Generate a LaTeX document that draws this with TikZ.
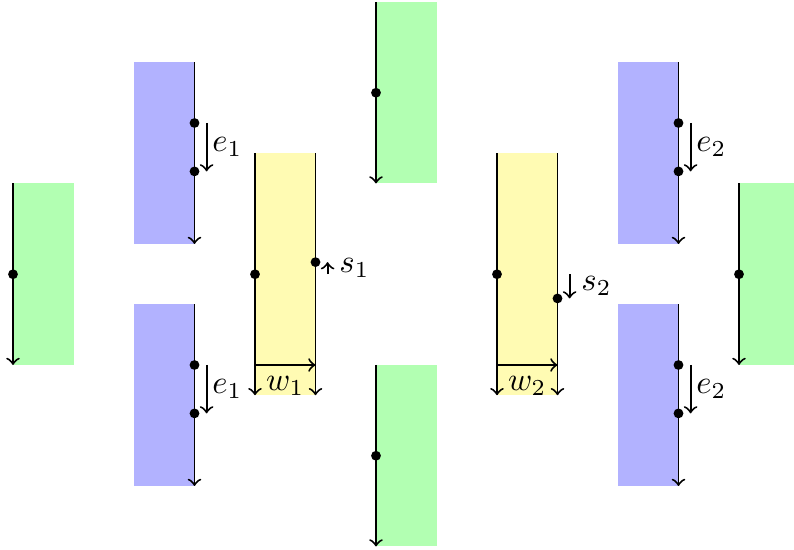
\documentclass[tikz,border=0pt]{standalone}
\begin{document}
\begin{tikzpicture}[x=0.65cm,y=0.65cm,
  box/.style={minimum width=0.65cm, inner sep=0pt, outer sep=0pt, anchor=north west, draw=none},
  greenbox/.style={box, fill=green!30, minimum height=1.95cm},
  bluebox/.style={box, fill=blue!30, minimum height=1.95cm},
  yellowbox/.style={box, fill=yellow!30, minimum height=2.6cm},
  flow/.style={semithick,->},
  dot/.style={circle, fill=black, inner sep=0pt, minimum size=3pt},
  elab/.style={right, inner sep=1.5pt},
  slab/.style={right},
  wlab/.style={below}]
\useasboundingbox (-0.2149,0.0331) rectangle (12.909,-9.058);
% boxes
\node[greenbox] (g1) at (0,-3) {};
\node[bluebox] (b1) at (2,-1) {};
\node[bluebox] (b2) at (2,-5) {};
\node[yellowbox] (y1) at (4,-2.5) {};
\node[greenbox] (g2) at (6,0) {};
\node[greenbox] (g3) at (6,-6) {};
\node[yellowbox] (y2) at (8,-2.5) {};
\node[bluebox] (b3) at (10,-1) {};
\node[bluebox] (b4) at (10,-5) {};
\node[greenbox] (g4) at (12,-3) {};
% flow lines
\draw[flow] (g1.north west) -- (g1.south west);
\draw[flow] (b1.north east) -- (b1.south east);
\draw[flow] (b2.north east) -- (b2.south east);
\draw[flow] (y1.north west) -- (y1.south west);
\draw[flow] (y1.north east) -- (y1.south east);
\draw[flow] (g2.north west) -- (g2.south west);
\draw[flow] (g3.north west) -- (g3.south west);
\draw[flow] (y2.north west) -- (y2.south west);
\draw[flow] (y2.north east) -- (y2.south east);
\draw[flow] (b3.north east) -- (b3.south east);
\draw[flow] (b4.north east) -- (b4.south east);
\draw[flow] (g4.north west) -- (g4.south west);
% dots
\node[dot] (dg1) at (0,-4.5) {};
\node[dot] (dg2) at (6,-1.5) {};
\node[dot] (dg3) at (6,-7.5) {};
\node[dot] (dg4) at (12,-4.5) {};
\node[dot] (db1a) at (3,-2) {};
\node[dot] (db1b) at (3,-2.8) {};
\node[dot] (db2a) at (3,-6) {};
\node[dot] (db2b) at (3,-6.8) {};
\node[dot] (db3a) at (11,-2) {};
\node[dot] (db3b) at (11,-2.8) {};
\node[dot] (db4a) at (11,-6) {};
\node[dot] (db4b) at (11,-6.8) {};
\node[dot] (dy1l) at (4,-4.5) {};
\node[dot] (dy1r) at (5,-4.3) {};
\node[dot] (dy2l) at (8,-4.5) {};
\node[dot] (dy2r) at (9,-4.9) {};
% displacement arrows
\coordinate (e1a) at (3.2,-2);   \coordinate (e1b) at (3.2,-2.8);
\coordinate (e1c) at (3.2,-6);   \coordinate (e1d) at (3.2,-6.8);
\coordinate (e2a) at (11.2,-2);  \coordinate (e2b) at (11.2,-2.8);
\coordinate (e2c) at (11.2,-6);  \coordinate (e2d) at (11.2,-6.8);
\coordinate (s1a) at (5.2,-4.5); \coordinate (s1b) at (5.2,-4.3);
\coordinate (s2a) at (9.2,-4.5); \coordinate (s2b) at (9.2,-4.9);
\coordinate (w1a) at (4,-6);     \coordinate (w1b) at (5,-6);
\coordinate (w2a) at (8,-6);     \coordinate (w2b) at (9,-6);
\draw[flow] (e1a) -- node[elab] {$e_1$} (e1b);
\draw[flow] (e1c) -- node[elab] {$e_1$} (e1d);
\draw[flow] (e2a) -- node[elab] {$e_2$} (e2b);
\draw[flow] (e2c) -- node[elab] {$e_2$} (e2d);
\draw[flow] (s1a) -- node[slab] {$s_1$} (s1b);
\draw[flow] (s2a) -- node[slab] {$s_2$} (s2b);
\draw[flow] (w1a) -- node[wlab] {$w_1$} (w1b);
\draw[flow] (w2a) -- node[wlab] {$w_2$} (w2b);
\end{tikzpicture}
\end{document}
